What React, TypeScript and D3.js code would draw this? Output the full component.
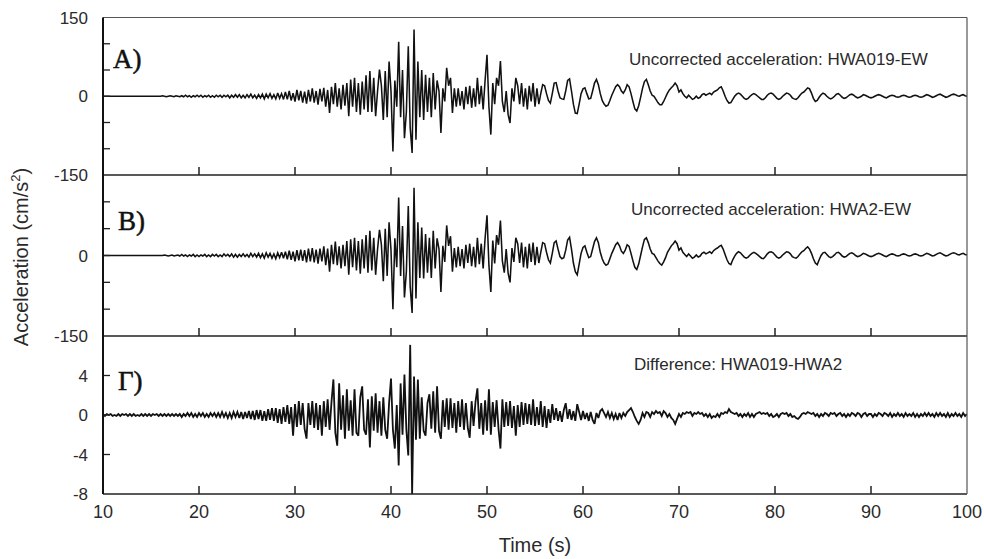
import React from "react";
import * as d3 from "d3";

// ---- data (sampled every 0.2 s from t = 10 s to t = 100 s) ----
const T0 = 10;
const DT = 0.2;

const timeTicks = [10, 20, 30, 40, 50, 60, 70, 80, 90, 100];
const accMinorTicks = [100, 50, 0, -50, -100];
const accLabelsA = [150, 0, -150];
const accLabelsB = [0, -150];
const diffMinorTicks = [4, 0, -4];
const diffLabels = [4, 0, -4, -8];

const panelLetters = ["A)", "B)", "Γ)"];
const panelTitles = [
  "Uncorrected acceleration: HWA019-EW",
  "Uncorrected acceleration: HWA2-EW",
  "Difference: HWA019-HWA2",
];

// HWA019-EW (cm/s²)
const seriesA = [
  0,0,0,0,0, 0,0,0,0,0, 0,0,0,0,0, 0,0,0,0,0, 0,0,0,0,0, 0,0,0,0,0,
  0,1,0,-1,0, 1,0,-1,1,0, -1,1,-1,2,-1, 1,-2,1,-1,2,
  -1,2,-2,1,-1, 2,-2,1,-2,2, -1,2,-2,2,-1, 2,-3,2,-2,3,
  -2,3,-3,2,-3, 3,-2,4,-3,2, -4,3,-3,4,-5, 4,-3,5,-4,3,
  -5,6,-4,5,-6, 8,-6,10,-8,6, -10,12,-8,10,-12, 9,-14,12,-10,15,
  -12,10,-16,14,-10, 16,-20,12,-32,18, -15,25,-20,15,-25, 22,-18,25,-38,32,
  -20,35,-30,25,-35, 28,-25,40,-30,48, -30,35,-38,10,51, 20,-45,48,-40,66,
  10,-105,30,-20,104, -40,50,-80,-30,95, -60,-108,127,-83,66, -40,50,-45,41,-30,
  35,-40,44,-25,30, 10,-70,15,-10,54, 20,35,-32,15,-20, 15,-18,10,-25,18,
  -15,20,-22,15,-20, 35,-15,20,-25,30, 79,-20,-73,25,-15, 35,20,67,-10,-30,
  10,-35,-51,15,-10, 35,20,-15,25,-20, 15,-25,20,-10,25, -20,15,-15,5,22,
  20,5,-8,-13,5, 25,26,10,-3,-5, -6,10,30,33,10, -15,-32,-33,-15,5,
  14,16,5,-5,-4, 10,25,32,22,5, -8,-15,-19,-17,-8, 2,10,18,22,18,
  10,6,12,22,18, 5,-10,-24,-28,-18, -2,15,28,32,22, 10,2,0,-6,-12,
  -16,-16,-10,-2,6, 12,16,20,25,20, 8,12,5,0,-3, 2,-2,-6,-4,0,
  -4,-2,3,5,2, 4,6,3,8,10, 12,16,18,10,0, -8,-13,-12,-6,0,
  4,6,4,0,-4, -6,-4,0,3,5, 3,0,-3,-6,-6, -3,2,5,6,4,
  0,-4,-6,-4,0, 3,6,5,2,-3, -5,-6,-3,2,6, 8,12,16,14,6,
  -4,-10,-8,-2,3, 6,4,0,-3,-5, -3,0,4,5,2, -2,-4,-3,0,3,
  4,2,-1,-3,-2, 0,3,2,0,-2, -3,-2,0,2,3, 2,0,-2,-3,-1,
  1,2,1,-1,-2, -1,1,2,1,-1, -2,-1,1,2,1, -1,-2,-1,1,3,
  2,0,-2,-1,1, 3,4,2,0,-2, -1,1,3,4,3, 1,0,2,3,1,
  0,
];

// HWA2-EW (cm/s²)
const seriesB = [
  0,0,0,0,0, 0,0,0,0,0, 0,0,0,0,0, 0,0,0,0,0, 0,0,0,0,0, 0,0,0,0,0,
  0,0,1,0,-1, 0,1,-1,0,1, -1,2,-1,1,-2, 1,-1,2,-2,1,
  -2,1,-1,2,-2, 1,-2,2,-1,2, -2,1,-2,3,-1, 2,-2,3,-3,2,
  -3,2,-2,3,-2, 2,-3,4,-2,3, -3,4,-4,3,-5, 5,-3,4,-5,3,
  -6,5,-4,6,-5, 7,-7,9,-8,7, -11,10,-9,11,-10, 10,-13,13,-11,14,
  -13,11,-15,13,-11, 17,-18,13,-30,20, -16,26,-18,17,-24, 20,-20,27,-36,30,
  -22,33,-28,27,-34, 30,-24,38,-32,46, -28,33,-36,12,48, 20,-48,50,-38,62,
  10,-100,32,-22,108, -38,55,-78,-30,92, -58,-107,126,-80,62, -42,52,-43,40,-32,
  33,-42,46,-24,32, 12,-68,18,-12,56, 18,36,-30,14,-22, 16,-20,12,-24,20,
  -14,22,-20,16,-22, 33,-16,22,-24,32, 75,-18,-68,28,-15, 38,20,65,-10,-32,
  12,-33,-50,14,-12, 33,22,-14,24,-22, 16,-24,22,-12,24, -18,16,-14,6,24,
  22,6,-8,-14,4, 24,27,12,-2,-6, -4,10,29,34,12, -14,-30,-36,-16,4,
  15,18,6,-4,-2, 12,26,33,24,6, -6,-14,-18,-16,-6, 4,12,20,24,18,
  8,4,10,20,17, 4,-10,-22,-26,-16, 0,16,30,33,24, 12,4,2,-4,-10,
  -15,-18,-12,-4,6, 12,18,22,27,22, 10,14,6,2,-2, 3,-1,-5,-3,1,
  -3,-1,4,6,3, 5,7,4,9,12, 14,17,19,12,2, -8,-15,-17,-8,-1,
  4,7,5,1,-3, -5,-3,1,4,6, 4,1,-2,-5,-6, -2,3,6,7,5,
  1,-3,-5,-3,1, 4,7,6,3,-2, -4,-5,-2,3,7, 9,13,16,12,4,
  -6,-14,-17,-8,0, 5,6,2,-2,-4, -2,1,5,6,3, -1,-3,-2,1,4,
  5,3,0,-2,-1, 1,4,3,1,-1, -2,-1,1,3,4, 3,1,-1,-2,0,
  2,3,2,0,-1, 0,2,3,2,0, -1,0,2,3,2, 0,-1,0,2,4,
  3,1,-1,0,2, 4,5,3,1,-1, 0,2,4,5,4, 2,1,3,4,2,
  1,
];

// Difference HWA019 - HWA2 (cm/s²)
const seriesDiff = [
  0.1,-0.1,0.1,0,0.1, -0.1,0,-0.1,0.1,-0.1, 0.1,0,0.1,-0.1,0.1, -0.1,0.1,-0.1,0,-0.1,
  0.1,-0.1,0.1,-0.1,0.1, -0.1,0.1,0,0.1,-0.1, 0.1,-0.1,0.1,-0.1,0.1, -0.1,0.1,-0.1,0.1,-0.1,
  0.1,-0.2,0.1,-0.1,0.2, -0.1,0.2,-0.2,0.1,-0.2, 0.2,-0.1,0.2,-0.2,0.1, -0.2,0.2,-0.1,0.2,-0.2,
  0.2,-0.2,0.3,-0.2,0.2, -0.3,0.2,-0.3,0.3,-0.2, 0.3,-0.3,0.3,-0.4,0.3, -0.3,0.4,-0.4,0.4,-0.5,
  0.5,-0.4,0.5,-0.6,0.4, -0.6,0.6,-0.5,0.7,-0.6, 0.7,-0.8,0.6,-0.9,0.8, -0.7,1.0,-0.9,0.8,-2.1,
  1.1,-1.2,1.4,-1.0,1.2, -1.4,-2.4,1.2,-1.0,1.4, -1.3,1.2,-1.5,1.0,-2.1, 1.4,-1.2,1.6,-1.5,1.3,
  3.6,-1.8,-3.1,3.2,-1.5, 2.0,-2.4,2.6,-1.6,1.5, -2.1,2.6,-1.8,-2.1,1.8, 2.9,-1.5,-2.0,1.6,-3.3,
  1.9,-1.6,2.2,-1.8,1.4, -2.1,1.8,-1.5,-2.4,1.2, 3.7,-1.5,-3.4,1.0,-5.1, 3.2,-2.0,4.1,-1.5,-4.1,
  7.1,-8.0,3.9,-2.5,3.6, -2.4,1.8,-1.6,-2.1,1.2, 2.1,-1.4,2.4,-1.8,2.9, -1.6,-2.4,1.5,-1.2,1.7,
  -1.5,1.7,-1.3,1.2,-1.8, 1.4,-1.2,1.6,-1.5,1.2, -1.3,-2.3,1.4,-1.1,1.3, 2.7,-1.4,1.2,-2.0,1.5,
  -1.6,2.6,-2.0,1.3,-1.2, 1.5,-1.4,-3.4,1.6,-1.2, 1.3,-1.1,1.4,-1.3,0.9, -2.1,1.0,-1.2,1.3,-1.0,
  1.2,-0.9,1.1,-1.0,1.6, -1.1,0.8,-1.0,1.4,-1.2, 0.9,-1.3,0.6,-0.8,1.1, -0.5,0.7,-0.6,0.4,-0.7,
  0.5,1.2,-0.4,0.6,-0.5, 0.4,-0.6,1.1,0.3,-0.5, 0.4,-0.4,0.2,-0.6,0.3, -0.5,-0.9,0.2,-0.3,0.4,
  0.6,0.2,-0.2,0.3,-0.3, 0.2,-0.4,0.1,-0.5,0.2, -0.3,0.2,-0.1,0.3,0.5, 0.7,0.3,-0.2,-0.6,-0.9,
  -0.5,0.2,-0.2,0.3,0.2, -0.2,0.3,0.1,0.4,0.2, 0.3,-0.1,0.4,0.2,-0.2, 0.1,-0.3,-0.5,-0.9,-0.4,
  0.1,-0.2,0.2,0.1,0.3, 0.2,0.3,-0.1,0.2,0.1, 0.3,0.1,0.2,-0.1,0.1, -0.2,0.1,-0.3,-0.1,-0.2,
  0.1,-0.2,0.2,0.1,0.3, 0.2,0.6,0.3,0.2,0.1, 0.2,-0.1,0.1,-0.2,0.1, -0.1,0.2,-0.2,0.1,-0.2,
  0.1,0.2,0.3,0.1,0.2, 0.1,0.2,-0.1,0.1,-0.2, -0.1,0.1,-0.2,0.1,0.2, 0.1,0.2,-0.1,0.1,-0.2,
  -0.1,-0.3,-0.4,-0.2,0.1, 0.2,0.1,0.3,0.2,0.1, 0.2,-0.1,0.1,-0.2,0.1, -0.1,0.2,0.1,-0.1,0.2,
  0.1,0.2,-0.1,0.1,0.2, -0.1,0.1,-0.2,0.1,-0.1, 0.2,0.1,-0.1,0.2,0.1, -0.2,0.1,0.2,-0.1,0.1,
  0.1,-0.2,0.1,-0.1,0.2, 0.1,-0.1,0.2,0.1,-0.1, 0.2,-0.2,0.1,-0.1,0.2, -0.1,0.1,-0.2,0.2,-0.1,
  0.1,-0.1,0.2,-0.2,0.1, -0.2,0.1,-0.1,0.2,-0.1, 0.2,-0.1,0.1,-0.2,0.2, -0.1,0.2,-0.1,0.1,-0.2,
  0.2,-0.2,0.1,-0.1,0.2, -0.1,0.1,-0.2,0.2,-0.1,
  0.1,
];

// ---- layout ----
const W = 984;
const H = 559;
const LEFT = 103;
const RIGHT = 967;
const FONT = "'Liberation Sans', Arial, Helvetica, sans-serif";
const SERIF = "'Liberation Serif', 'Times New Roman', serif";
const TEXT = "#2a2a2a";

type Panel = {
  data: number[];
  domain: [number, number];
  top: number;
  bottom: number;
  minor: number[];
  labels: number[];
  letter: string;
  letterX: number;
  letterY: number;
  title: string;
  titleX: number;
  titleY: number;
  stroke: number;
};

const panels: Panel[] = [
  { data: seriesA, domain: [-150, 150], top: 17.5, bottom: 175, minor: accMinorTicks, labels: accLabelsA,
    letter: panelLetters[0], letterX: 113, letterY: 68, title: panelTitles[0], titleX: 629, titleY: 65, stroke: 1.55 },
  { data: seriesB, domain: [-150, 150], top: 175, bottom: 336, minor: accMinorTicks, labels: accLabelsB,
    letter: panelLetters[1], letterX: 118, letterY: 230, title: panelTitles[1], titleX: 631, titleY: 215, stroke: 1.55 },
  { data: seriesDiff, domain: [-8, 8], top: 336, bottom: 494, minor: diffMinorTicks, labels: diffLabels,
    letter: panelLetters[2], letterX: 118, letterY: 390, title: panelTitles[2], titleX: 634, titleY: 370, stroke: 1.8 },
];

export default function App() {
  const x = d3.scaleLinear().domain([10, 100]).range([LEFT, RIGHT]);

  return (
    <svg width={W} height={H} style={{ position: "absolute", left: 0, top: 0, display: "block", background: "#fff" }}>
      <defs>
        {panels.map((p, i) => (
          <clipPath id={`clip${i}`} key={i}>
            <rect x={LEFT} y={p.top} width={RIGHT - LEFT} height={p.bottom - p.top} />
          </clipPath>
        ))}
      </defs>

      {panels.map((p, i) => {
        const y = d3.scaleLinear().domain(p.domain).range([p.bottom, p.top]);
        const line = d3
          .line<number>()
          .x((_, k) => x(T0 + k * DT))
          .y((d) => y(d));
        return (
          <g key={i}>
            {/* signal */}
            <path d={line(p.data) || ""} fill="none" stroke="#111" strokeWidth={p.stroke}
              strokeLinejoin="miter" strokeMiterlimit={3} clipPath={`url(#clip${i})`} />
            {/* bottom border */}
            <line x1={LEFT} x2={RIGHT} y1={p.bottom} y2={p.bottom} stroke="#222" strokeWidth={1.6} />
            {/* x ticks pointing up */}
            {timeTicks.filter((t) => t > 10 && t < 100).map((t) => (
              <line key={t} x1={x(t)} x2={x(t)} y1={p.bottom} y2={p.bottom - 8} stroke="#222" strokeWidth={1.5} />
            ))}
            {/* y ticks */}
            {p.minor.map((v) => (
              <line key={v} x1={LEFT} x2={LEFT + 7} y1={y(v)} y2={y(v)} stroke="#222" strokeWidth={1.3} />
            ))}
            {/* y labels */}
            {p.labels.map((v) => (
              <text key={v} x={88} y={y(v)} dy="0.36em" textAnchor="end" fontFamily={FONT}
                fontSize={17} fill={TEXT}>{v}</text>
            ))}
            {/* panel letter */}
            <text x={p.letterX} y={p.letterY} fontFamily={SERIF} fontSize={27} fill="#111"
              stroke="#111" strokeWidth={0.5}>{p.letter}</text>
            {/* title */}
            <text x={p.titleX} y={p.titleY} fontFamily={FONT} fontSize={17} fill={TEXT}>{p.title}</text>
          </g>
        );
      })}

      {/* frame */}
      <line x1={LEFT} x2={RIGHT} y1={17.5} y2={17.5} stroke="#555" strokeWidth={1.2} />
      <line x1={RIGHT} x2={RIGHT} y1={17.5} y2={494} stroke="#555" strokeWidth={1.2} />
      <line x1={LEFT} x2={LEFT} y1={17.5} y2={494} stroke="#111" strokeWidth={2} />

      {/* x tick labels */}
      {timeTicks.map((t) => (
        <text key={t} x={x(t)} y={518} textAnchor="middle" fontFamily={FONT} fontSize={18} fill={TEXT}>{t}</text>
      ))}
      <text x={535} y={552} textAnchor="middle" fontFamily={FONT} fontSize={20} fill={TEXT}>Time (s)</text>

      {/* y axis title */}
      <text transform="translate(28,257) rotate(-90)" textAnchor="middle" fontFamily={FONT} fontSize={20} fill={TEXT}>
        Acceleration (cm/s<tspan dy="-8" fontSize={13}>2</tspan><tspan dy="8">)</tspan>
      </text>
    </svg>
  );
}
